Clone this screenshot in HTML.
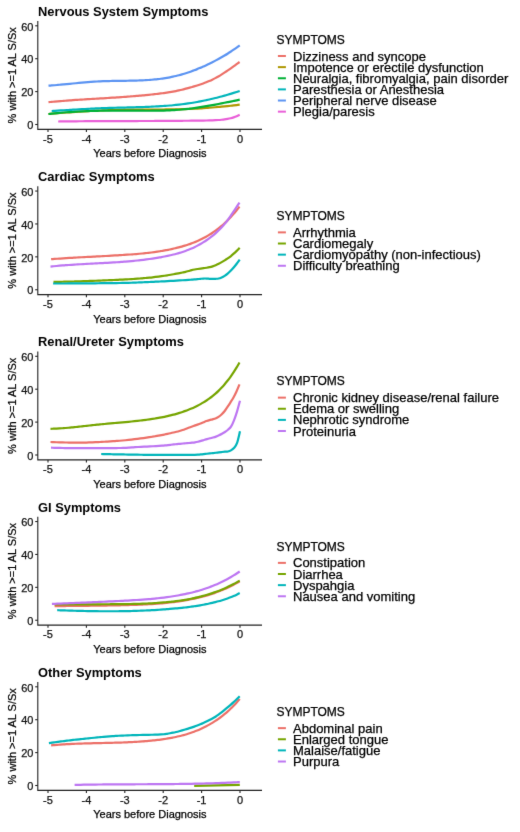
<!DOCTYPE html><html><head><meta charset="utf-8"><style>html,body{margin:0;padding:0;background:#fff;}svg{display:block;will-change:transform;}text{font-family:"Liberation Sans",sans-serif;stroke:#000;stroke-width:0.25px;}</style></head><body>
<svg width="520" height="832" viewBox="0 0 520 832">
<defs><filter id="soft" x="0" y="0" width="520" height="832" filterUnits="userSpaceOnUse" color-interpolation-filters="sRGB"><feConvolveMatrix order="3" kernelMatrix="0.0064 0.0672 0.0064 0.0672 0.7056 0.0672 0.0064 0.0672 0.0064" edgeMode="duplicate"/></filter></defs>
<g filter="url(#soft)">
<rect width="520" height="832" fill="#fff"/>
<g><text x="38" y="15.8" font-size="12.88" font-weight="bold" fill="#000" style="stroke:none">Nervous System Symptoms</text><path d="M48.5 102.2C49.01 102.15 50.52 102 51.53 101.91C52.54 101.81 53.56 101.72 54.57 101.62C55.58 101.53 56.59 101.44 57.6 101.36C58.61 101.27 59.62 101.18 60.63 101.1C61.64 101.02 62.66 100.93 63.67 100.85C64.68 100.77 65.69 100.7 66.7 100.62C67.71 100.54 68.72 100.47 69.73 100.4C70.74 100.32 71.76 100.25 72.77 100.18C73.78 100.11 74.79 100.04 75.8 99.97C76.81 99.9 77.82 99.84 78.83 99.77C79.84 99.7 80.86 99.64 81.87 99.57C82.88 99.51 83.89 99.44 84.9 99.38C85.91 99.32 86.92 99.26 87.93 99.19C88.94 99.13 89.96 99.07 90.97 99.01C91.98 98.95 92.99 98.89 94 98.83C95.01 98.77 96.02 98.71 97.03 98.65C98.04 98.59 99.06 98.53 100.07 98.47C101.08 98.4 102.09 98.34 103.1 98.28C104.11 98.22 105.12 98.16 106.13 98.1C107.14 98.04 108.16 97.98 109.17 97.91C110.18 97.85 111.19 97.79 112.2 97.72C113.21 97.66 114.22 97.6 115.23 97.53C116.24 97.46 117.26 97.4 118.27 97.33C119.28 97.26 120.29 97.19 121.3 97.13C122.31 97.06 123.32 96.98 124.33 96.91C125.34 96.84 126.36 96.77 127.37 96.69C128.38 96.62 129.39 96.54 130.4 96.46C131.41 96.38 132.42 96.3 133.43 96.22C134.44 96.14 135.46 96.05 136.47 95.97C137.48 95.88 138.49 95.79 139.5 95.7C140.51 95.61 141.52 95.52 142.53 95.43C143.54 95.33 144.56 95.24 145.57 95.14C146.58 95.04 147.59 94.94 148.6 94.83C149.61 94.73 150.62 94.62 151.63 94.51C152.64 94.4 153.66 94.29 154.67 94.18C155.68 94.06 156.69 93.94 157.7 93.82C158.71 93.7 159.72 93.58 160.73 93.45C161.74 93.32 162.76 93.19 163.77 93.05C164.78 92.92 165.79 92.78 166.8 92.63C167.81 92.48 168.82 92.32 169.83 92.16C170.84 92 171.86 91.83 172.87 91.65C173.88 91.46 174.89 91.27 175.9 91.07C176.91 90.87 177.92 90.66 178.93 90.43C179.94 90.2 180.96 89.96 181.97 89.71C182.98 89.46 183.99 89.2 185 88.93C186.01 88.67 187.02 88.39 188.03 88.12C189.04 87.85 190.06 87.57 191.07 87.29C192.08 87 193.09 86.72 194.1 86.42C195.11 86.12 196.12 85.82 197.13 85.51C198.14 85.19 199.16 84.86 200.17 84.52C201.18 84.18 202.19 83.83 203.2 83.46C204.21 83.09 205.22 82.71 206.23 82.31C207.24 81.9 208.26 81.48 209.27 81.04C210.28 80.59 211.29 80.13 212.3 79.64C213.31 79.15 214.32 78.64 215.33 78.11C216.34 77.58 217.36 77.02 218.37 76.43C219.38 75.85 220.39 75.25 221.4 74.62C222.41 74 223.42 73.36 224.43 72.7C225.44 72.04 226.46 71.36 227.47 70.68C228.48 69.99 229.49 69.29 230.5 68.58C231.51 67.87 232.52 67.14 233.53 66.42C234.54 65.69 235.56 64.95 236.57 64.22C237.58 63.48 239.09 62.37 239.6 62" fill="none" stroke="#EC7068" stroke-width="2.2" stroke-linecap="butt" stroke-linejoin="round"/><path d="M48.5 114C49.01 113.96 50.52 113.82 51.53 113.74C52.55 113.65 53.56 113.57 54.57 113.48C55.58 113.4 56.59 113.32 57.6 113.23C58.62 113.15 59.63 113.07 60.64 112.99C61.65 112.91 62.66 112.83 63.67 112.75C64.69 112.68 65.7 112.6 66.71 112.52C67.72 112.45 68.73 112.37 69.74 112.3C70.76 112.23 71.77 112.16 72.78 112.09C73.79 112.01 74.8 111.94 75.81 111.88C76.83 111.81 77.84 111.74 78.85 111.68C79.86 111.61 80.87 111.55 81.88 111.48C82.9 111.42 83.91 111.36 84.92 111.3C85.93 111.24 86.94 111.18 87.95 111.12C88.97 111.06 89.98 111.01 90.99 110.95C92 110.9 93.01 110.84 94.02 110.79C95.04 110.74 96.05 110.69 97.06 110.64C98.07 110.59 99.08 110.54 100.09 110.5C101.11 110.45 102.12 110.41 103.13 110.36C104.14 110.32 105.15 110.28 106.16 110.24C107.18 110.2 108.19 110.16 109.2 110.13C110.21 110.09 111.22 110.05 112.23 110.02C113.24 109.99 114.26 109.95 115.27 109.92C116.28 109.89 117.29 109.87 118.3 109.84C119.31 109.81 120.33 109.79 121.34 109.76C122.35 109.74 123.36 109.72 124.37 109.7C125.38 109.68 126.4 109.66 127.41 109.65C128.42 109.63 129.43 109.61 130.44 109.6C131.45 109.59 132.47 109.58 133.48 109.57C134.49 109.56 135.5 109.55 136.51 109.55C137.52 109.54 138.54 109.53 139.55 109.53C140.56 109.53 141.57 109.52 142.58 109.52C143.59 109.52 144.61 109.52 145.62 109.51C146.63 109.51 147.64 109.51 148.65 109.51C149.66 109.51 150.68 109.51 151.69 109.51C152.7 109.51 153.71 109.51 154.72 109.51C155.73 109.51 156.75 109.5 157.76 109.5C158.77 109.5 159.78 109.5 160.79 109.5C161.8 109.49 162.82 109.49 163.83 109.48C164.84 109.48 165.85 109.47 166.86 109.46C167.87 109.46 168.89 109.45 169.9 109.44C170.91 109.43 171.92 109.41 172.93 109.4C173.94 109.38 174.96 109.37 175.97 109.35C176.98 109.33 177.99 109.31 179 109.29C180.01 109.27 181.02 109.24 182.04 109.21C183.05 109.18 184.06 109.15 185.07 109.12C186.08 109.09 187.09 109.05 188.11 109.01C189.12 108.97 190.13 108.93 191.14 108.88C192.15 108.84 193.16 108.79 194.18 108.74C195.19 108.69 196.2 108.63 197.21 108.58C198.22 108.52 199.23 108.46 200.25 108.4C201.26 108.33 202.27 108.27 203.28 108.2C204.29 108.13 205.3 108.06 206.32 107.99C207.33 107.91 208.34 107.84 209.35 107.76C210.36 107.68 211.37 107.6 212.39 107.51C213.4 107.43 214.41 107.34 215.42 107.25C216.43 107.16 217.44 107.07 218.46 106.97C219.47 106.87 220.48 106.78 221.49 106.68C222.5 106.58 223.51 106.48 224.53 106.37C225.54 106.27 226.55 106.16 227.56 106.05C228.57 105.95 229.58 105.84 230.6 105.73C231.61 105.62 232.62 105.5 233.63 105.39C234.64 105.28 235.65 105.16 236.67 105.05C237.68 104.93 239.19 104.76 239.7 104.7" fill="none" stroke="#AE9700" stroke-width="2.2" stroke-linecap="butt" stroke-linejoin="round"/><path d="M48.5 114C49.01 113.94 50.52 113.77 51.53 113.66C52.55 113.55 53.56 113.44 54.57 113.34C55.58 113.24 56.59 113.14 57.6 113.04C58.62 112.95 59.63 112.86 60.64 112.77C61.65 112.68 62.66 112.59 63.67 112.51C64.69 112.43 65.7 112.35 66.71 112.27C67.72 112.2 68.73 112.13 69.74 112.06C70.76 111.99 71.77 111.92 72.78 111.86C73.79 111.79 74.8 111.73 75.81 111.67C76.83 111.62 77.84 111.56 78.85 111.51C79.86 111.46 80.87 111.41 81.88 111.36C82.9 111.31 83.91 111.27 84.92 111.23C85.93 111.18 86.94 111.15 87.95 111.11C88.97 111.07 89.98 111.04 90.99 111C92 110.97 93.01 110.94 94.02 110.91C95.04 110.88 96.05 110.86 97.06 110.83C98.07 110.81 99.08 110.79 100.09 110.77C101.11 110.75 102.12 110.73 103.13 110.71C104.14 110.7 105.15 110.68 106.16 110.67C107.18 110.66 108.19 110.65 109.2 110.64C110.21 110.63 111.22 110.62 112.23 110.61C113.24 110.6 114.26 110.6 115.27 110.6C116.28 110.59 117.29 110.59 118.3 110.59C119.31 110.59 120.33 110.59 121.34 110.59C122.35 110.59 123.36 110.59 124.37 110.59C125.38 110.6 126.4 110.6 127.41 110.61C128.42 110.61 129.43 110.62 130.44 110.62C131.45 110.63 132.47 110.64 133.48 110.65C134.49 110.65 135.5 110.66 136.51 110.67C137.52 110.68 138.54 110.69 139.55 110.69C140.56 110.7 141.57 110.71 142.58 110.71C143.59 110.72 144.61 110.72 145.62 110.73C146.63 110.73 147.64 110.73 148.65 110.73C149.66 110.73 150.68 110.73 151.69 110.72C152.7 110.72 153.71 110.71 154.72 110.7C155.73 110.69 156.75 110.68 157.76 110.67C158.77 110.65 159.78 110.63 160.79 110.61C161.8 110.59 162.82 110.56 163.83 110.53C164.84 110.5 165.85 110.47 166.86 110.43C167.87 110.39 168.89 110.35 169.9 110.3C170.91 110.26 171.92 110.2 172.93 110.15C173.94 110.09 174.96 110.03 175.97 109.96C176.98 109.89 177.99 109.81 179 109.73C180.01 109.65 181.02 109.57 182.04 109.47C183.05 109.38 184.06 109.28 185.07 109.18C186.08 109.07 187.09 108.96 188.11 108.84C189.12 108.73 190.13 108.6 191.14 108.48C192.15 108.35 193.16 108.22 194.18 108.08C195.19 107.94 196.2 107.8 197.21 107.65C198.22 107.5 199.23 107.35 200.25 107.19C201.26 107.03 202.27 106.87 203.28 106.71C204.29 106.54 205.3 106.37 206.32 106.2C207.33 106.03 208.34 105.85 209.35 105.67C210.36 105.49 211.37 105.31 212.39 105.13C213.4 104.94 214.41 104.75 215.42 104.56C216.43 104.37 217.44 104.18 218.46 103.98C219.47 103.79 220.48 103.59 221.49 103.39C222.5 103.19 223.51 102.99 224.53 102.79C225.54 102.58 226.55 102.38 227.56 102.18C228.57 101.97 229.58 101.77 230.6 101.56C231.61 101.36 232.62 101.15 233.63 100.94C234.64 100.73 235.65 100.53 236.67 100.32C237.68 100.11 239.19 99.8 239.7 99.7" fill="none" stroke="#00B135" stroke-width="2.2" stroke-linecap="butt" stroke-linejoin="round"/><path d="M51.7 111C52.21 110.97 53.72 110.88 54.73 110.82C55.74 110.76 56.75 110.7 57.76 110.63C58.78 110.57 59.79 110.51 60.8 110.45C61.81 110.39 62.82 110.32 63.83 110.26C64.84 110.2 65.85 110.14 66.86 110.07C67.87 110.01 68.88 109.95 69.89 109.89C70.9 109.82 71.92 109.76 72.93 109.7C73.94 109.64 74.95 109.58 75.96 109.52C76.97 109.46 77.98 109.4 78.99 109.34C80 109.28 81.01 109.22 82.02 109.17C83.03 109.11 84.04 109.05 85.05 109C86.07 108.94 87.08 108.89 88.09 108.83C89.1 108.78 90.11 108.73 91.12 108.68C92.13 108.63 93.14 108.58 94.15 108.53C95.16 108.49 96.17 108.44 97.18 108.4C98.19 108.35 99.21 108.31 100.22 108.27C101.23 108.23 102.24 108.19 103.25 108.15C104.26 108.12 105.27 108.08 106.28 108.05C107.29 108.01 108.3 107.98 109.31 107.95C110.32 107.92 111.33 107.89 112.35 107.86C113.36 107.83 114.37 107.8 115.38 107.77C116.39 107.75 117.4 107.72 118.41 107.69C119.42 107.67 120.43 107.64 121.44 107.61C122.45 107.59 123.46 107.56 124.47 107.54C125.48 107.51 126.5 107.49 127.51 107.46C128.52 107.43 129.53 107.41 130.54 107.38C131.55 107.36 132.56 107.33 133.57 107.3C134.58 107.27 135.59 107.25 136.6 107.22C137.61 107.19 138.62 107.16 139.64 107.13C140.65 107.09 141.66 107.06 142.67 107.03C143.68 106.99 144.69 106.96 145.7 106.92C146.71 106.88 147.72 106.84 148.73 106.8C149.74 106.76 150.75 106.71 151.76 106.67C152.78 106.62 153.79 106.57 154.8 106.52C155.81 106.47 156.82 106.41 157.83 106.36C158.84 106.3 159.85 106.24 160.86 106.17C161.87 106.11 162.88 106.04 163.89 105.97C164.9 105.9 165.92 105.83 166.93 105.75C167.94 105.67 168.95 105.59 169.96 105.5C170.97 105.42 171.98 105.33 172.99 105.23C174 105.14 175.01 105.04 176.02 104.94C177.03 104.83 178.04 104.72 179.05 104.61C180.07 104.5 181.08 104.38 182.09 104.26C183.1 104.13 184.11 104 185.12 103.87C186.13 103.73 187.14 103.59 188.15 103.45C189.16 103.3 190.17 103.15 191.18 102.99C192.19 102.83 193.21 102.67 194.22 102.5C195.23 102.33 196.24 102.15 197.25 101.97C198.26 101.79 199.27 101.6 200.28 101.4C201.29 101.2 202.3 101 203.31 100.79C204.32 100.59 205.33 100.37 206.35 100.15C207.36 99.93 208.37 99.71 209.38 99.47C210.39 99.24 211.4 99.01 212.41 98.76C213.42 98.52 214.43 98.27 215.44 98.02C216.45 97.77 217.46 97.51 218.47 97.24C219.48 96.98 220.5 96.71 221.51 96.44C222.52 96.16 223.53 95.88 224.54 95.6C225.55 95.32 226.56 95.03 227.57 94.73C228.58 94.44 229.59 94.14 230.6 93.84C231.61 93.54 232.62 93.23 233.64 92.92C234.65 92.61 235.66 92.29 236.67 91.97C237.68 91.66 239.19 91.17 239.7 91" fill="none" stroke="#00B5BA" stroke-width="2.2" stroke-linecap="butt" stroke-linejoin="round"/><path d="M48.5 85.7C49.01 85.66 50.52 85.55 51.53 85.47C52.55 85.39 53.56 85.31 54.57 85.23C55.58 85.14 56.59 85.05 57.6 84.96C58.62 84.88 59.63 84.78 60.64 84.69C61.65 84.6 62.66 84.5 63.67 84.4C64.69 84.31 65.7 84.21 66.71 84.11C67.72 84.01 68.73 83.91 69.74 83.81C70.76 83.72 71.77 83.62 72.78 83.52C73.79 83.42 74.8 83.32 75.81 83.22C76.83 83.13 77.84 83.03 78.85 82.93C79.86 82.84 80.87 82.75 81.88 82.65C82.9 82.56 83.91 82.47 84.92 82.39C85.93 82.3 86.94 82.22 87.95 82.14C88.97 82.05 89.98 81.98 90.99 81.9C92 81.83 93.01 81.76 94.02 81.69C95.04 81.62 96.05 81.56 97.06 81.5C98.07 81.45 99.08 81.39 100.09 81.34C101.11 81.3 102.12 81.25 103.13 81.21C104.14 81.18 105.15 81.14 106.16 81.11C107.18 81.08 108.19 81.05 109.2 81.03C110.21 81.01 111.22 80.99 112.23 80.97C113.24 80.95 114.26 80.93 115.27 80.92C116.28 80.9 117.29 80.89 118.3 80.88C119.31 80.86 120.33 80.85 121.34 80.84C122.35 80.83 123.36 80.82 124.37 80.8C125.38 80.79 126.4 80.78 127.41 80.76C128.42 80.75 129.43 80.73 130.44 80.71C131.45 80.7 132.47 80.67 133.48 80.65C134.49 80.63 135.5 80.6 136.51 80.57C137.52 80.54 138.54 80.51 139.55 80.47C140.56 80.43 141.57 80.39 142.58 80.34C143.59 80.29 144.61 80.24 145.62 80.18C146.63 80.12 147.64 80.05 148.65 79.98C149.66 79.91 150.68 79.83 151.69 79.75C152.7 79.66 153.71 79.57 154.72 79.47C155.73 79.37 156.75 79.26 157.76 79.15C158.77 79.03 159.78 78.91 160.79 78.77C161.8 78.64 162.82 78.5 163.83 78.34C164.84 78.19 165.85 78.03 166.86 77.86C167.87 77.68 168.89 77.5 169.9 77.31C170.91 77.11 171.92 76.91 172.93 76.69C173.94 76.48 174.96 76.25 175.97 76.01C176.98 75.77 177.99 75.52 179 75.25C180.01 74.99 181.02 74.71 182.04 74.42C183.05 74.13 184.06 73.82 185.07 73.51C186.08 73.19 187.09 72.86 188.11 72.52C189.12 72.18 190.13 71.83 191.14 71.46C192.15 71.1 193.16 70.72 194.18 70.33C195.19 69.95 196.2 69.55 197.21 69.14C198.22 68.73 199.23 68.3 200.25 67.87C201.26 67.44 202.27 67 203.28 66.54C204.29 66.09 205.3 65.62 206.32 65.15C207.33 64.68 208.34 64.19 209.35 63.7C210.36 63.2 211.37 62.7 212.39 62.19C213.4 61.67 214.41 61.15 215.42 60.62C216.43 60.09 217.44 59.55 218.46 59C219.47 58.44 220.48 57.88 221.49 57.31C222.5 56.73 223.51 56.15 224.53 55.54C225.54 54.94 226.55 54.33 227.56 53.7C228.57 53.07 229.58 52.42 230.6 51.76C231.61 51.1 232.62 50.42 233.63 49.72C234.64 49.02 235.65 48.31 236.67 47.57C237.68 46.84 239.19 45.69 239.7 45.31" fill="none" stroke="#5C94F2" stroke-width="2.2" stroke-linecap="butt" stroke-linejoin="round"/><path d="M58.2 121.5C58.7 121.49 60.22 121.47 61.23 121.46C62.23 121.45 63.24 121.43 64.25 121.42C65.26 121.41 66.27 121.4 67.28 121.38C68.28 121.37 69.29 121.36 70.3 121.35C71.31 121.34 72.32 121.33 73.33 121.32C74.33 121.31 75.34 121.3 76.35 121.29C77.36 121.28 78.37 121.27 79.38 121.27C80.38 121.26 81.39 121.25 82.4 121.24C83.41 121.23 84.42 121.23 85.42 121.22C86.43 121.21 87.44 121.21 88.45 121.2C89.46 121.19 90.47 121.19 91.47 121.18C92.48 121.18 93.49 121.17 94.5 121.16C95.51 121.16 96.52 121.15 97.53 121.15C98.53 121.14 99.54 121.14 100.55 121.14C101.56 121.13 102.57 121.13 103.58 121.12C104.58 121.12 105.59 121.12 106.6 121.11C107.61 121.11 108.62 121.1 109.62 121.1C110.63 121.1 111.64 121.09 112.65 121.09C113.66 121.09 114.67 121.09 115.68 121.08C116.68 121.08 117.69 121.08 118.7 121.07C119.71 121.07 120.72 121.07 121.72 121.07C122.73 121.06 123.74 121.06 124.75 121.06C125.76 121.06 126.77 121.05 127.78 121.05C128.78 121.05 129.79 121.05 130.8 121.04C131.81 121.04 132.82 121.04 133.82 121.04C134.83 121.03 135.84 121.03 136.85 121.03C137.86 121.02 138.87 121.02 139.88 121.02C140.88 121.02 141.89 121.01 142.9 121.01C143.91 121.01 144.92 121 145.93 121C146.93 121 147.94 120.99 148.95 120.99C149.96 120.99 150.97 120.98 151.97 120.98C152.98 120.98 153.99 120.97 155 120.97C156.01 120.96 157.02 120.96 158.03 120.95C159.03 120.95 160.04 120.94 161.05 120.94C162.06 120.93 163.07 120.93 164.07 120.92C165.08 120.92 166.09 120.91 167.1 120.91C168.11 120.9 169.12 120.89 170.12 120.89C171.13 120.88 172.14 120.87 173.15 120.87C174.16 120.86 175.17 120.85 176.18 120.84C177.18 120.83 178.19 120.83 179.2 120.82C180.21 120.81 181.22 120.8 182.22 120.79C183.23 120.78 184.24 120.77 185.25 120.76C186.26 120.75 187.27 120.74 188.27 120.73C189.28 120.72 190.29 120.71 191.3 120.69C192.31 120.68 193.32 120.67 194.32 120.66C195.33 120.64 196.34 120.63 197.35 120.62C198.36 120.6 199.37 120.59 200.38 120.57C201.38 120.56 202.39 120.54 203.4 120.53C204.41 120.51 205.42 120.49 206.43 120.48C207.43 120.46 208.44 120.44 209.45 120.41C210.46 120.39 211.47 120.36 212.48 120.32C213.48 120.29 214.49 120.24 215.5 120.19C216.51 120.13 217.52 120.07 218.52 119.99C219.53 119.91 220.54 119.82 221.55 119.72C222.56 119.61 223.57 119.49 224.57 119.34C225.58 119.2 226.59 119.04 227.6 118.86C228.61 118.67 229.62 118.46 230.62 118.21C231.63 117.96 232.64 117.68 233.65 117.35C234.66 117.02 235.67 116.66 236.68 116.23C237.68 115.81 239.2 115.04 239.7 114.8" fill="none" stroke="#E95FD8" stroke-width="2.2" stroke-linecap="butt" stroke-linejoin="round"/><path d="M37.8 21V129.4H262" fill="none" stroke="#222" stroke-width="1.1"/><path d="M35.2 124.5H37.8" stroke="#222" stroke-width="1.1"/><text x="33.4" y="129.2" font-size="11" text-anchor="end" fill="#1a1a1a">0</text><path d="M35.2 91.6H37.8" stroke="#222" stroke-width="1.1"/><text x="33.4" y="96.3" font-size="11" text-anchor="end" fill="#1a1a1a">20</text><path d="M35.2 58.7H37.8" stroke="#222" stroke-width="1.1"/><text x="33.4" y="63.4" font-size="11" text-anchor="end" fill="#1a1a1a">40</text><path d="M35.2 25.8H37.8" stroke="#222" stroke-width="1.1"/><text x="33.4" y="30.5" font-size="11" text-anchor="end" fill="#1a1a1a">60</text><path d="M48 129.4V132" stroke="#222" stroke-width="1.1"/><text x="48" y="142.6" font-size="11" text-anchor="middle" fill="#1a1a1a">-5</text><path d="M86.4 129.4V132" stroke="#222" stroke-width="1.1"/><text x="86.4" y="142.6" font-size="11" text-anchor="middle" fill="#1a1a1a">-4</text><path d="M124.8 129.4V132" stroke="#222" stroke-width="1.1"/><text x="124.8" y="142.6" font-size="11" text-anchor="middle" fill="#1a1a1a">-3</text><path d="M163.2 129.4V132" stroke="#222" stroke-width="1.1"/><text x="163.2" y="142.6" font-size="11" text-anchor="middle" fill="#1a1a1a">-2</text><path d="M201.6 129.4V132" stroke="#222" stroke-width="1.1"/><text x="201.6" y="142.6" font-size="11" text-anchor="middle" fill="#1a1a1a">-1</text><path d="M240 129.4V132" stroke="#222" stroke-width="1.1"/><text x="240" y="142.6" font-size="11" text-anchor="middle" fill="#1a1a1a">0</text><text x="149.9" y="157.3" font-size="11" text-anchor="middle" fill="#000">Years before Diagnosis</text><text transform="translate(16.2 75.3) rotate(-90)" font-size="11" text-anchor="middle" fill="#000">% with &gt;=1 AL S/Sx</text><text x="276.4" y="43.8" font-size="12" fill="#000">SYMPTOMS</text><path d="M277.9 56H285.9" stroke="#EC7068" stroke-width="2"/><text x="293" y="60.6" font-size="13" fill="#000">Dizziness and syncope</text><path d="M277.9 67.13H285.9" stroke="#AE9700" stroke-width="2"/><text x="293" y="71.73" font-size="13" fill="#000">Impotence or erectile dysfunction</text><path d="M277.9 78.26H285.9" stroke="#00B135" stroke-width="2"/><text x="293" y="82.86" font-size="13" fill="#000">Neuralgia, fibromyalgia, pain disorder</text><path d="M277.9 89.39H285.9" stroke="#00B5BA" stroke-width="2"/><text x="293" y="93.99" font-size="13" fill="#000">Paresthesia or Anesthesia</text><path d="M277.9 100.52H285.9" stroke="#5C94F2" stroke-width="2"/><text x="293" y="105.12" font-size="13" fill="#000">Peripheral nerve disease</text><path d="M277.9 111.65H285.9" stroke="#E95FD8" stroke-width="2"/><text x="293" y="116.25" font-size="13" fill="#000">Plegia/paresis</text></g>
<g><text x="38" y="181.05" font-size="12.88" font-weight="bold" fill="#000" style="stroke:none">Cardiac Symptoms</text><path d="M51.1 259.2C51.61 259.16 53.13 259.05 54.14 258.97C55.15 258.9 56.16 258.83 57.18 258.76C58.19 258.68 59.2 258.62 60.22 258.55C61.23 258.48 62.24 258.41 63.25 258.35C64.27 258.28 65.28 258.22 66.29 258.15C67.31 258.09 68.32 258.03 69.33 257.97C70.35 257.91 71.36 257.84 72.37 257.79C73.38 257.73 74.4 257.67 75.41 257.61C76.42 257.55 77.44 257.5 78.45 257.44C79.46 257.38 80.47 257.33 81.49 257.27C82.5 257.22 83.51 257.16 84.53 257.11C85.54 257.05 86.55 257 87.56 256.94C88.58 256.89 89.59 256.84 90.6 256.78C91.62 256.73 92.63 256.68 93.64 256.62C94.65 256.57 95.67 256.52 96.68 256.47C97.69 256.41 98.71 256.36 99.72 256.31C100.73 256.25 101.75 256.2 102.76 256.14C103.77 256.09 104.78 256.04 105.8 255.98C106.81 255.93 107.82 255.87 108.84 255.81C109.85 255.76 110.86 255.7 111.87 255.64C112.89 255.59 113.9 255.53 114.91 255.47C115.93 255.41 116.94 255.35 117.95 255.29C118.96 255.23 119.98 255.17 120.99 255.11C122 255.04 123.02 254.98 124.03 254.92C125.04 254.85 126.05 254.78 127.07 254.71C128.08 254.65 129.09 254.58 130.11 254.5C131.12 254.43 132.13 254.35 133.15 254.28C134.16 254.2 135.17 254.12 136.18 254.03C137.2 253.95 138.21 253.86 139.22 253.77C140.24 253.68 141.25 253.58 142.26 253.48C143.27 253.38 144.29 253.28 145.3 253.17C146.31 253.07 147.33 252.95 148.34 252.84C149.35 252.72 150.36 252.6 151.38 252.47C152.39 252.35 153.4 252.21 154.42 252.08C155.43 251.94 156.44 251.79 157.45 251.64C158.47 251.49 159.48 251.34 160.49 251.18C161.51 251.01 162.52 250.85 163.53 250.67C164.55 250.49 165.56 250.31 166.57 250.12C167.58 249.93 168.6 249.73 169.61 249.53C170.62 249.32 171.64 249.11 172.65 248.88C173.66 248.66 174.67 248.42 175.69 248.18C176.7 247.93 177.71 247.68 178.73 247.41C179.74 247.14 180.75 246.87 181.76 246.58C182.78 246.29 183.79 245.98 184.8 245.67C185.82 245.35 186.83 245.02 187.84 244.68C188.85 244.33 189.87 243.98 190.88 243.6C191.89 243.23 192.91 242.84 193.92 242.43C194.93 242.03 195.95 241.61 196.96 241.17C197.97 240.73 198.98 240.28 200 239.8C201.01 239.32 202.02 238.83 203.04 238.31C204.05 237.79 205.06 237.25 206.07 236.69C207.09 236.13 208.1 235.54 209.11 234.93C210.13 234.31 211.14 233.67 212.15 233.01C213.16 232.34 214.18 231.64 215.19 230.92C216.2 230.19 217.22 229.44 218.23 228.65C219.24 227.86 220.25 227.04 221.27 226.18C222.28 225.33 223.29 224.44 224.31 223.51C225.32 222.58 226.33 221.62 227.35 220.62C228.36 219.62 229.37 218.58 230.38 217.49C231.4 216.41 232.41 215.29 233.42 214.12C234.44 212.96 235.45 211.75 236.46 210.5C237.47 209.24 238.99 207.25 239.5 206.6" fill="none" stroke="#EC7068" stroke-width="2.2" stroke-linecap="butt" stroke-linejoin="round"/><path d="M53.5 281.9C54 281.89 55.5 281.87 56.5 281.86C57.5 281.84 58.51 281.83 59.51 281.81C60.51 281.79 61.51 281.77 62.51 281.75C63.51 281.73 64.51 281.71 65.51 281.69C66.51 281.67 67.52 281.65 68.52 281.62C69.52 281.6 70.52 281.57 71.52 281.54C72.52 281.52 73.52 281.49 74.52 281.46C75.52 281.43 76.52 281.4 77.53 281.37C78.53 281.34 79.53 281.31 80.53 281.28C81.53 281.25 82.53 281.22 83.53 281.18C84.53 281.15 85.53 281.11 86.54 281.08C87.54 281.04 88.54 281.01 89.54 280.97C90.54 280.93 91.54 280.9 92.54 280.86C93.54 280.82 94.54 280.78 95.55 280.74C96.55 280.7 97.55 280.66 98.55 280.62C99.55 280.58 100.55 280.54 101.55 280.5C102.55 280.46 103.55 280.42 104.55 280.38C105.56 280.33 106.56 280.29 107.56 280.25C108.56 280.21 109.56 280.16 110.56 280.12C111.56 280.08 112.56 280.03 113.56 279.99C114.57 279.94 115.57 279.9 116.57 279.85C117.57 279.81 118.57 279.76 119.57 279.72C120.57 279.67 121.57 279.63 122.57 279.58C123.58 279.53 124.58 279.48 125.58 279.43C126.58 279.37 127.58 279.32 128.58 279.26C129.58 279.2 130.58 279.14 131.58 279.08C132.58 279.02 133.59 278.96 134.59 278.89C135.59 278.82 136.59 278.75 137.59 278.68C138.59 278.61 139.59 278.53 140.59 278.45C141.59 278.37 142.6 278.29 143.6 278.2C144.6 278.12 145.6 278.02 146.6 277.93C147.6 277.83 148.6 277.73 149.6 277.62C150.6 277.52 151.61 277.41 152.61 277.29C153.61 277.18 154.61 277.06 155.61 276.94C156.61 276.82 157.61 276.7 158.61 276.58C159.61 276.45 160.62 276.32 161.62 276.19C162.62 276.05 163.62 275.9 164.62 275.75C165.62 275.6 166.62 275.44 167.62 275.28C168.62 275.11 169.62 274.94 170.63 274.77C171.63 274.6 172.63 274.42 173.63 274.24C174.63 274.07 175.63 273.89 176.63 273.7C177.63 273.52 178.63 273.34 179.64 273.14C180.64 272.94 181.64 272.74 182.64 272.53C183.64 272.31 184.64 272.1 185.64 271.84C186.64 271.59 187.64 271.27 188.65 270.98C189.65 270.69 190.65 270.36 191.65 270.11C192.65 269.86 193.65 269.67 194.65 269.49C195.65 269.3 196.65 269.15 197.65 269C198.66 268.84 199.66 268.69 200.66 268.55C201.66 268.41 202.66 268.28 203.66 268.14C204.66 268 205.66 267.89 206.66 267.73C207.67 267.56 208.67 267.38 209.67 267.15C210.67 266.92 211.67 266.65 212.67 266.33C213.67 266.02 214.67 265.68 215.67 265.26C216.68 264.84 217.68 264.34 218.68 263.82C219.68 263.31 220.68 262.73 221.68 262.15C222.68 261.58 223.68 261.01 224.68 260.39C225.68 259.78 226.69 259.15 227.69 258.46C228.69 257.78 229.69 257.06 230.69 256.27C231.69 255.47 232.69 254.58 233.69 253.69C234.69 252.8 235.7 251.87 236.7 250.91C237.7 249.94 239.2 248.4 239.7 247.9" fill="none" stroke="#76A500" stroke-width="2.2" stroke-linecap="butt" stroke-linejoin="round"/><path d="M53.1 283.5C53.6 283.5 55.11 283.5 56.11 283.5C57.11 283.5 58.12 283.5 59.12 283.5C60.12 283.49 61.13 283.49 62.13 283.49C63.13 283.49 64.14 283.48 65.14 283.48C66.14 283.48 67.15 283.47 68.15 283.47C69.15 283.47 70.15 283.46 71.16 283.46C72.16 283.45 73.16 283.45 74.17 283.44C75.17 283.44 76.17 283.43 77.18 283.43C78.18 283.42 79.18 283.41 80.19 283.41C81.19 283.4 82.19 283.39 83.2 283.39C84.2 283.38 85.2 283.37 86.21 283.36C87.21 283.36 88.21 283.35 89.22 283.34C90.22 283.33 91.22 283.32 92.23 283.31C93.23 283.3 94.23 283.29 95.24 283.28C96.24 283.27 97.24 283.27 98.25 283.26C99.25 283.24 100.25 283.23 101.25 283.22C102.26 283.21 103.26 283.2 104.26 283.19C105.27 283.18 106.27 283.17 107.27 283.16C108.28 283.15 109.28 283.13 110.28 283.12C111.29 283.11 112.29 283.1 113.29 283.09C114.3 283.07 115.3 283.06 116.3 283.05C117.31 283.04 118.31 283.02 119.31 283.01C120.32 283 121.32 282.98 122.32 282.96C123.33 282.95 124.33 282.93 125.33 282.9C126.34 282.88 127.34 282.85 128.34 282.83C129.35 282.8 130.35 282.77 131.35 282.74C132.35 282.7 133.36 282.67 134.36 282.63C135.36 282.6 136.37 282.56 137.37 282.52C138.37 282.48 139.38 282.44 140.38 282.4C141.38 282.36 142.39 282.32 143.39 282.27C144.39 282.23 145.4 282.18 146.4 282.14C147.4 282.09 148.41 282.04 149.41 282C150.41 281.95 151.42 281.9 152.42 281.86C153.42 281.81 154.43 281.76 155.43 281.71C156.43 281.67 157.44 281.62 158.44 281.57C159.44 281.53 160.45 281.48 161.45 281.43C162.45 281.38 163.45 281.34 164.46 281.29C165.46 281.24 166.46 281.19 167.47 281.13C168.47 281.08 169.47 281.03 170.48 280.97C171.48 280.92 172.48 280.86 173.49 280.81C174.49 280.75 175.49 280.69 176.5 280.63C177.5 280.57 178.5 280.51 179.51 280.45C180.51 280.39 181.51 280.33 182.52 280.26C183.52 280.2 184.52 280.13 185.53 280.07C186.53 280 187.53 279.93 188.54 279.86C189.54 279.8 190.54 279.72 191.55 279.65C192.55 279.58 193.55 279.52 194.55 279.43C195.56 279.35 196.56 279.25 197.56 279.15C198.57 279.04 199.57 278.89 200.57 278.79C201.58 278.69 202.58 278.58 203.58 278.54C204.59 278.5 205.59 278.51 206.59 278.55C207.6 278.6 208.6 278.73 209.6 278.79C210.61 278.85 211.61 278.9 212.61 278.9C213.62 278.89 214.62 278.85 215.62 278.78C216.63 278.72 217.63 278.74 218.63 278.51C219.64 278.28 220.64 277.87 221.64 277.42C222.65 276.98 223.65 276.46 224.65 275.84C225.65 275.21 226.66 274.51 227.66 273.68C228.66 272.84 229.67 271.87 230.67 270.83C231.67 269.8 232.68 268.66 233.68 267.47C234.68 266.29 235.69 265.02 236.69 263.71C237.69 262.4 239.2 260.29 239.7 259.6" fill="none" stroke="#00B5BA" stroke-width="2.2" stroke-linecap="butt" stroke-linejoin="round"/><path d="M50.5 266.6C51 266.55 52.5 266.39 53.5 266.28C54.5 266.18 55.5 266.08 56.5 265.99C57.5 265.89 58.5 265.8 59.5 265.71C60.5 265.62 61.5 265.54 62.5 265.46C63.5 265.37 64.5 265.3 65.5 265.22C66.5 265.14 67.5 265.07 68.5 264.99C69.5 264.92 70.5 264.85 71.5 264.79C72.5 264.72 73.5 264.65 74.5 264.59C75.5 264.53 76.5 264.46 77.5 264.4C78.5 264.34 79.5 264.28 80.5 264.23C81.5 264.17 82.5 264.11 83.5 264.06C84.5 264 85.5 263.95 86.5 263.89C87.5 263.84 88.5 263.79 89.5 263.73C90.5 263.68 91.5 263.63 92.5 263.58C93.5 263.53 94.5 263.47 95.5 263.42C96.5 263.37 97.5 263.32 98.5 263.27C99.5 263.22 100.5 263.16 101.5 263.11C102.5 263.06 103.5 263 104.5 262.95C105.5 262.89 106.5 262.84 107.5 262.78C108.5 262.73 109.5 262.67 110.5 262.61C111.5 262.55 112.5 262.49 113.5 262.43C114.5 262.37 115.5 262.3 116.5 262.24C117.5 262.17 118.5 262.1 119.5 262.03C120.5 261.96 121.5 261.89 122.5 261.82C123.5 261.74 124.5 261.66 125.5 261.58C126.5 261.5 127.5 261.42 128.5 261.34C129.5 261.25 130.5 261.16 131.5 261.07C132.5 260.98 133.5 260.88 134.5 260.78C135.5 260.68 136.5 260.58 137.5 260.48C138.5 260.37 139.5 260.26 140.5 260.15C141.5 260.03 142.5 259.91 143.5 259.79C144.5 259.67 145.5 259.54 146.5 259.41C147.5 259.28 148.5 259.14 149.5 259C150.5 258.86 151.5 258.72 152.5 258.57C153.5 258.41 154.5 258.26 155.5 258.1C156.5 257.94 157.5 257.77 158.5 257.6C159.5 257.42 160.5 257.25 161.5 257.06C162.5 256.88 163.5 256.69 164.5 256.49C165.5 256.29 166.5 256.09 167.5 255.88C168.5 255.67 169.5 255.45 170.5 255.23C171.5 255 172.5 254.76 173.5 254.52C174.5 254.27 175.5 254.01 176.5 253.74C177.5 253.47 178.5 253.19 179.5 252.89C180.5 252.59 181.5 252.28 182.5 251.95C183.5 251.62 184.5 251.28 185.5 250.92C186.5 250.56 187.5 250.18 188.5 249.78C189.5 249.38 190.5 248.97 191.5 248.53C192.5 248.09 193.5 247.63 194.5 247.15C195.5 246.67 196.5 246.17 197.5 245.64C198.5 245.11 199.5 244.56 200.5 243.98C201.5 243.41 202.5 242.81 203.5 242.18C204.5 241.55 205.5 240.9 206.5 240.22C207.5 239.53 208.5 238.83 209.5 238.09C210.5 237.35 211.5 236.59 212.5 235.79C213.5 235 214.5 234.18 215.5 233.31C216.5 232.44 217.5 231.53 218.5 230.57C219.5 229.61 220.5 228.61 221.5 227.54C222.5 226.46 223.5 225.34 224.5 224.14C225.5 222.93 226.5 221.66 227.5 220.32C228.5 218.98 229.5 217.56 230.5 216.12C231.5 214.68 232.5 213.18 233.5 211.68C234.5 210.18 235.5 208.64 236.5 207.13C237.5 205.61 239 203.35 239.5 202.6" fill="none" stroke="#BD76F2" stroke-width="2.2" stroke-linecap="butt" stroke-linejoin="round"/><path d="M37.8 186.25V294.65H262" fill="none" stroke="#222" stroke-width="1.1"/><path d="M35.2 289.75H37.8" stroke="#222" stroke-width="1.1"/><text x="33.4" y="294.45" font-size="11" text-anchor="end" fill="#1a1a1a">0</text><path d="M35.2 256.85H37.8" stroke="#222" stroke-width="1.1"/><text x="33.4" y="261.55" font-size="11" text-anchor="end" fill="#1a1a1a">20</text><path d="M35.2 223.95H37.8" stroke="#222" stroke-width="1.1"/><text x="33.4" y="228.65" font-size="11" text-anchor="end" fill="#1a1a1a">40</text><path d="M35.2 191.05H37.8" stroke="#222" stroke-width="1.1"/><text x="33.4" y="195.75" font-size="11" text-anchor="end" fill="#1a1a1a">60</text><path d="M48 294.65V297.25" stroke="#222" stroke-width="1.1"/><text x="48" y="307.85" font-size="11" text-anchor="middle" fill="#1a1a1a">-5</text><path d="M86.4 294.65V297.25" stroke="#222" stroke-width="1.1"/><text x="86.4" y="307.85" font-size="11" text-anchor="middle" fill="#1a1a1a">-4</text><path d="M124.8 294.65V297.25" stroke="#222" stroke-width="1.1"/><text x="124.8" y="307.85" font-size="11" text-anchor="middle" fill="#1a1a1a">-3</text><path d="M163.2 294.65V297.25" stroke="#222" stroke-width="1.1"/><text x="163.2" y="307.85" font-size="11" text-anchor="middle" fill="#1a1a1a">-2</text><path d="M201.6 294.65V297.25" stroke="#222" stroke-width="1.1"/><text x="201.6" y="307.85" font-size="11" text-anchor="middle" fill="#1a1a1a">-1</text><path d="M240 294.65V297.25" stroke="#222" stroke-width="1.1"/><text x="240" y="307.85" font-size="11" text-anchor="middle" fill="#1a1a1a">0</text><text x="149.9" y="322.55" font-size="11" text-anchor="middle" fill="#000">Years before Diagnosis</text><text transform="translate(16.2 240.55) rotate(-90)" font-size="11" text-anchor="middle" fill="#000">% with &gt;=1 AL S/Sx</text><text x="276.4" y="220.18" font-size="12" fill="#000">SYMPTOMS</text><path d="M277.9 232.38H285.9" stroke="#EC7068" stroke-width="2"/><text x="293" y="236.98" font-size="13" fill="#000">Arrhythmia</text><path d="M277.9 243.51H285.9" stroke="#76A500" stroke-width="2"/><text x="293" y="248.11" font-size="13" fill="#000">Cardiomegaly</text><path d="M277.9 254.64H285.9" stroke="#00B5BA" stroke-width="2"/><text x="293" y="259.24" font-size="13" fill="#000">Cardiomyopathy (non-infectious)</text><path d="M277.9 265.77H285.9" stroke="#BD76F2" stroke-width="2"/><text x="293" y="270.37" font-size="13" fill="#000">Difficulty breathing</text></g>
<g><text x="38" y="346.3" font-size="12.88" font-weight="bold" fill="#000" style="stroke:none">Renal/Ureter Symptoms</text><path d="M50.5 442C51 442.02 52.5 442.09 53.5 442.14C54.5 442.18 55.5 442.22 56.5 442.25C57.5 442.29 58.5 442.32 59.5 442.35C60.5 442.38 61.5 442.4 62.5 442.42C63.5 442.45 64.5 442.47 65.5 442.49C66.5 442.5 67.5 442.52 68.5 442.53C69.5 442.55 70.5 442.56 71.5 442.56C72.5 442.57 73.5 442.58 74.5 442.59C75.5 442.59 76.5 442.6 77.5 442.6C78.5 442.6 79.5 442.6 80.5 442.6C81.5 442.6 82.5 442.59 83.5 442.58C84.5 442.57 85.5 442.55 86.5 442.53C87.5 442.51 88.5 442.48 89.5 442.45C90.5 442.42 91.5 442.38 92.5 442.35C93.5 442.31 94.5 442.27 95.5 442.22C96.5 442.18 97.5 442.13 98.5 442.08C99.5 442.02 100.5 441.97 101.5 441.91C102.5 441.86 103.5 441.8 104.5 441.74C105.5 441.68 106.5 441.61 107.5 441.55C108.5 441.49 109.5 441.42 110.5 441.35C111.5 441.29 112.5 441.22 113.5 441.15C114.5 441.08 115.5 441.01 116.5 440.94C117.5 440.87 118.5 440.81 119.5 440.73C120.5 440.66 121.5 440.59 122.5 440.51C123.5 440.42 124.5 440.33 125.5 440.23C126.5 440.13 127.5 440.03 128.5 439.92C129.5 439.81 130.5 439.69 131.5 439.57C132.5 439.45 133.5 439.33 134.5 439.2C135.5 439.08 136.5 438.95 137.5 438.82C138.5 438.69 139.5 438.57 140.5 438.44C141.5 438.3 142.5 438.17 143.5 438.04C144.5 437.9 145.5 437.76 146.5 437.61C147.5 437.47 148.5 437.32 149.5 437.17C150.5 437.02 151.5 436.86 152.5 436.7C153.5 436.54 154.5 436.37 155.5 436.2C156.5 436.03 157.5 435.85 158.5 435.67C159.5 435.49 160.5 435.31 161.5 435.12C162.5 434.93 163.5 434.73 164.5 434.53C165.5 434.33 166.5 434.12 167.5 433.9C168.5 433.69 169.5 433.47 170.5 433.24C171.5 433.01 172.5 432.77 173.5 432.52C174.5 432.28 175.5 432.02 176.5 431.76C177.5 431.5 178.5 431.23 179.5 430.94C180.5 430.65 181.5 430.35 182.5 430.02C183.5 429.68 184.5 429.31 185.5 428.94C186.5 428.57 187.5 428.18 188.5 427.8C189.5 427.42 190.5 427.04 191.5 426.68C192.5 426.32 193.5 425.98 194.5 425.63C195.5 425.29 196.5 424.95 197.5 424.6C198.5 424.25 199.5 423.9 200.5 423.51C201.5 423.12 202.5 422.68 203.5 422.27C204.5 421.85 205.5 421.4 206.5 421.03C207.5 420.67 208.5 420.35 209.5 420.07C210.5 419.79 211.5 419.62 212.5 419.36C213.5 419.1 214.5 418.91 215.5 418.49C216.5 418.08 217.5 417.53 218.5 416.86C219.5 416.19 220.5 415.43 221.5 414.49C222.5 413.55 223.5 412.5 224.5 411.22C225.5 409.95 226.5 408.32 227.5 406.83C228.5 405.35 229.5 403.87 230.5 402.31C231.5 400.75 232.5 399.26 233.5 397.46C234.5 395.66 235.5 393.69 236.5 391.51C237.5 389.34 239 385.59 239.5 384.4" fill="none" stroke="#EC7068" stroke-width="2.2" stroke-linecap="butt" stroke-linejoin="round"/><path d="M50.5 428.8C51 428.79 52.5 428.75 53.5 428.72C54.5 428.68 55.5 428.64 56.5 428.59C57.5 428.54 58.5 428.49 59.5 428.43C60.5 428.37 61.5 428.3 62.5 428.23C63.5 428.15 64.5 428.08 65.5 427.99C66.5 427.91 67.5 427.83 68.5 427.74C69.5 427.65 70.5 427.55 71.5 427.46C72.5 427.36 73.5 427.26 74.5 427.16C75.5 427.05 76.5 426.95 77.5 426.84C78.5 426.73 79.5 426.62 80.5 426.51C81.5 426.4 82.5 426.29 83.5 426.18C84.5 426.07 85.5 425.96 86.5 425.85C87.5 425.73 88.5 425.62 89.5 425.51C90.5 425.4 91.5 425.29 92.5 425.18C93.5 425.07 94.5 424.97 95.5 424.86C96.5 424.76 97.5 424.65 98.5 424.55C99.5 424.45 100.5 424.36 101.5 424.26C102.5 424.16 103.5 424.07 104.5 423.97C105.5 423.88 106.5 423.79 107.5 423.7C108.5 423.6 109.5 423.51 110.5 423.42C111.5 423.33 112.5 423.24 113.5 423.15C114.5 423.06 115.5 422.98 116.5 422.89C117.5 422.8 118.5 422.71 119.5 422.62C120.5 422.53 121.5 422.44 122.5 422.34C123.5 422.25 124.5 422.16 125.5 422.06C126.5 421.97 127.5 421.88 128.5 421.78C129.5 421.68 130.5 421.58 131.5 421.48C132.5 421.38 133.5 421.28 134.5 421.17C135.5 421.07 136.5 420.96 137.5 420.85C138.5 420.74 139.5 420.63 140.5 420.51C141.5 420.39 142.5 420.27 143.5 420.15C144.5 420.03 145.5 419.9 146.5 419.77C147.5 419.64 148.5 419.51 149.5 419.37C150.5 419.23 151.5 419.08 152.5 418.93C153.5 418.78 154.5 418.62 155.5 418.46C156.5 418.3 157.5 418.13 158.5 417.95C159.5 417.78 160.5 417.59 161.5 417.4C162.5 417.21 163.5 417.01 164.5 416.8C165.5 416.59 166.5 416.38 167.5 416.15C168.5 415.92 169.5 415.69 170.5 415.44C171.5 415.19 172.5 414.94 173.5 414.67C174.5 414.4 175.5 414.12 176.5 413.83C177.5 413.54 178.5 413.24 179.5 412.92C180.5 412.61 181.5 412.28 182.5 411.94C183.5 411.6 184.5 411.24 185.5 410.87C186.5 410.51 187.5 410.12 188.5 409.73C189.5 409.33 190.5 408.92 191.5 408.49C192.5 408.06 193.5 407.62 194.5 407.16C195.5 406.7 196.5 406.22 197.5 405.72C198.5 405.21 199.5 404.69 200.5 404.14C201.5 403.59 202.5 403.02 203.5 402.42C204.5 401.82 205.5 401.19 206.5 400.53C207.5 399.86 208.5 399.17 209.5 398.45C210.5 397.72 211.5 396.96 212.5 396.15C213.5 395.35 214.5 394.51 215.5 393.63C216.5 392.74 217.5 391.82 218.5 390.85C219.5 389.88 220.5 388.87 221.5 387.8C222.5 386.73 223.5 385.62 224.5 384.45C225.5 383.28 226.5 382.06 227.5 380.78C228.5 379.5 229.5 378.17 230.5 376.77C231.5 375.38 232.5 373.92 233.5 372.4C234.5 370.88 235.5 369.3 236.5 367.65C237.5 366 239 363.36 239.5 362.5" fill="none" stroke="#76A500" stroke-width="2.2" stroke-linecap="butt" stroke-linejoin="round"/><path d="M101.2 454C101.7 454.01 103.21 454.05 104.22 454.07C105.22 454.1 106.23 454.12 107.23 454.14C108.24 454.17 109.25 454.19 110.25 454.21C111.26 454.23 112.26 454.25 113.27 454.28C114.28 454.3 115.28 454.32 116.29 454.33C117.29 454.35 118.3 454.37 119.3 454.39C120.31 454.41 121.32 454.42 122.32 454.44C123.33 454.46 124.33 454.47 125.34 454.49C126.34 454.51 127.35 454.52 128.36 454.54C129.36 454.56 130.37 454.58 131.37 454.59C132.38 454.61 133.39 454.63 134.39 454.64C135.4 454.66 136.4 454.68 137.41 454.69C138.41 454.71 139.42 454.72 140.43 454.74C141.43 454.75 142.44 454.77 143.44 454.78C144.45 454.79 145.46 454.8 146.46 454.82C147.47 454.83 148.47 454.84 149.48 454.85C150.48 454.86 151.49 454.87 152.5 454.87C153.5 454.88 154.51 454.89 155.51 454.89C156.52 454.89 157.52 454.9 158.53 454.9C159.54 454.9 160.54 454.9 161.55 454.9C162.55 454.9 163.56 454.9 164.57 454.9C165.57 454.9 166.58 454.9 167.58 454.9C168.59 454.9 169.59 454.89 170.6 454.89C171.61 454.89 172.61 454.89 173.62 454.89C174.62 454.88 175.63 454.88 176.63 454.88C177.64 454.88 178.65 454.87 179.65 454.87C180.66 454.87 181.66 454.86 182.67 454.86C183.68 454.86 184.68 454.85 185.69 454.85C186.69 454.84 187.7 454.84 188.7 454.84C189.71 454.83 190.72 454.83 191.72 454.82C192.73 454.81 193.73 454.82 194.74 454.8C195.74 454.78 196.75 454.76 197.76 454.71C198.76 454.65 199.77 454.56 200.77 454.46C201.78 454.37 202.79 454.25 203.79 454.13C204.8 454.01 205.8 453.88 206.81 453.76C207.81 453.64 208.82 453.53 209.83 453.42C210.83 453.31 211.84 453.2 212.84 453.09C213.85 452.98 214.86 452.86 215.86 452.74C216.87 452.62 217.87 452.5 218.88 452.38C219.88 452.26 220.89 452.14 221.9 452.03C222.9 451.92 223.91 451.81 224.91 451.72C225.92 451.62 226.92 451.68 227.93 451.46C228.94 451.24 229.94 450.96 230.95 450.39C231.95 449.82 232.96 449.23 233.97 448.04C234.97 446.84 235.98 446 236.98 443.21C237.99 440.42 239.5 433.29 240 431.3" fill="none" stroke="#00B5BA" stroke-width="2.2" stroke-linecap="butt" stroke-linejoin="round"/><path d="M51 447.7C51.5 447.71 53 447.75 54 447.78C55 447.81 56 447.83 57 447.86C58 447.88 59 447.91 60 447.93C61 447.95 62 447.97 63 448C64 448.02 65 448.04 66 448.06C67 448.07 68 448.09 69 448.11C70 448.12 71 448.14 72 448.15C73 448.16 74 448.17 75 448.18C76 448.19 77 448.19 78 448.2C79 448.2 80 448.2 81 448.2C82 448.2 83 448.2 84 448.2C85 448.2 86 448.2 87 448.19C88 448.19 89 448.19 90 448.19C91 448.19 92 448.18 93 448.18C94 448.18 95 448.17 96 448.17C97 448.16 98 448.16 99 448.16C100 448.15 101 448.15 102 448.14C103 448.13 104 448.13 105 448.12C106 448.12 107 448.11 108 448.1C109 448.1 110 448.09 111 448.08C112 448.07 113 448.06 114 448.06C115 448.05 116 448.04 117 448.03C118 448.02 119 448.02 120 448C121 447.98 122 447.97 123 447.93C124 447.9 125 447.85 126 447.8C127 447.75 128 447.69 129 447.63C130 447.56 131 447.49 132 447.43C133 447.36 134 447.29 135 447.22C136 447.15 137 447.08 138 447.02C139 446.96 140 446.9 141 446.85C142 446.79 143 446.74 144 446.69C145 446.64 146 446.59 147 446.54C148 446.49 149 446.44 150 446.39C151 446.34 152 446.29 153 446.23C154 446.18 155 446.12 156 446.06C157 446 158 445.94 159 445.87C160 445.8 161 445.73 162 445.65C163 445.57 164 445.48 165 445.38C166 445.29 167 445.19 168 445.08C169 444.98 170 444.87 171 444.76C172 444.66 173 444.55 174 444.44C175 444.33 176 444.22 177 444.11C178 444.01 179 443.9 180 443.8C181 443.7 182 443.61 183 443.52C184 443.43 185 443.36 186 443.27C187 443.18 188 443.1 189 443C190 442.91 191 442.81 192 442.69C193 442.57 194 442.46 195 442.3C196 442.14 197 441.94 198 441.71C199 441.48 200 441.19 201 440.9C202 440.61 203 440.29 204 439.99C205 439.68 206 439.36 207 439.08C208 438.8 209 438.54 210 438.28C211 438.02 212 437.8 213 437.52C214 437.24 215 436.96 216 436.6C217 436.24 218 435.82 219 435.35C220 434.88 221 434.34 222 433.78C223 433.22 224 432.64 225 431.97C226 431.29 227 430.6 228 429.71C229 428.82 230 428.18 231 426.61C232 425.04 233 422.79 234 420.29C235 417.79 236 414.86 237 411.59C238 408.33 239.5 402.52 240 400.7" fill="none" stroke="#BD76F2" stroke-width="2.2" stroke-linecap="butt" stroke-linejoin="round"/><path d="M37.8 351.5V459.9H262" fill="none" stroke="#222" stroke-width="1.1"/><path d="M35.2 455H37.8" stroke="#222" stroke-width="1.1"/><text x="33.4" y="459.7" font-size="11" text-anchor="end" fill="#1a1a1a">0</text><path d="M35.2 422.1H37.8" stroke="#222" stroke-width="1.1"/><text x="33.4" y="426.8" font-size="11" text-anchor="end" fill="#1a1a1a">20</text><path d="M35.2 389.2H37.8" stroke="#222" stroke-width="1.1"/><text x="33.4" y="393.9" font-size="11" text-anchor="end" fill="#1a1a1a">40</text><path d="M35.2 356.3H37.8" stroke="#222" stroke-width="1.1"/><text x="33.4" y="361" font-size="11" text-anchor="end" fill="#1a1a1a">60</text><path d="M48 459.9V462.5" stroke="#222" stroke-width="1.1"/><text x="48" y="473.1" font-size="11" text-anchor="middle" fill="#1a1a1a">-5</text><path d="M86.4 459.9V462.5" stroke="#222" stroke-width="1.1"/><text x="86.4" y="473.1" font-size="11" text-anchor="middle" fill="#1a1a1a">-4</text><path d="M124.8 459.9V462.5" stroke="#222" stroke-width="1.1"/><text x="124.8" y="473.1" font-size="11" text-anchor="middle" fill="#1a1a1a">-3</text><path d="M163.2 459.9V462.5" stroke="#222" stroke-width="1.1"/><text x="163.2" y="473.1" font-size="11" text-anchor="middle" fill="#1a1a1a">-2</text><path d="M201.6 459.9V462.5" stroke="#222" stroke-width="1.1"/><text x="201.6" y="473.1" font-size="11" text-anchor="middle" fill="#1a1a1a">-1</text><path d="M240 459.9V462.5" stroke="#222" stroke-width="1.1"/><text x="240" y="473.1" font-size="11" text-anchor="middle" fill="#1a1a1a">0</text><text x="149.9" y="487.8" font-size="11" text-anchor="middle" fill="#000">Years before Diagnosis</text><text transform="translate(16.2 405.8) rotate(-90)" font-size="11" text-anchor="middle" fill="#000">% with &gt;=1 AL S/Sx</text><text x="276.4" y="385.43" font-size="12" fill="#000">SYMPTOMS</text><path d="M277.9 397.63H285.9" stroke="#EC7068" stroke-width="2"/><text x="293" y="402.23" font-size="13" fill="#000">Chronic kidney disease/renal failure</text><path d="M277.9 408.76H285.9" stroke="#76A500" stroke-width="2"/><text x="293" y="413.36" font-size="13" fill="#000">Edema or swelling</text><path d="M277.9 419.89H285.9" stroke="#00B5BA" stroke-width="2"/><text x="293" y="424.49" font-size="13" fill="#000">Nephrotic syndrome</text><path d="M277.9 431.02H285.9" stroke="#BD76F2" stroke-width="2"/><text x="293" y="435.62" font-size="13" fill="#000">Proteinuria</text></g>
<g><text x="38" y="511.55" font-size="12.88" font-weight="bold" fill="#000" style="stroke:none">GI Symptoms</text><path d="M54.6 606.11C55.11 606.1 56.62 606.09 57.63 606.09C58.65 606.08 59.66 606.07 60.67 606.06C61.68 606.06 62.69 606.05 63.7 606.04C64.71 606.04 65.73 606.03 66.74 606.02C67.75 606.01 68.76 606 69.77 605.99C70.78 605.99 71.8 605.98 72.81 605.97C73.82 605.96 74.83 605.95 75.84 605.94C76.85 605.93 77.86 605.92 78.88 605.91C79.89 605.9 80.9 605.89 81.91 605.88C82.92 605.87 83.93 605.86 84.94 605.85C85.96 605.83 86.97 605.82 87.98 605.81C88.99 605.8 90 605.79 91.01 605.77C92.02 605.76 93.04 605.75 94.05 605.73C95.06 605.72 96.07 605.7 97.08 605.69C98.09 605.67 99.1 605.66 100.12 605.64C101.13 605.63 102.14 605.61 103.15 605.6C104.16 605.58 105.17 605.56 106.19 605.54C107.2 605.53 108.21 605.51 109.22 605.49C110.23 605.47 111.24 605.45 112.25 605.43C113.27 605.41 114.28 605.39 115.29 605.37C116.3 605.35 117.31 605.33 118.32 605.31C119.33 605.29 120.35 605.27 121.36 605.24C122.37 605.22 123.38 605.2 124.39 605.17C125.4 605.15 126.41 605.12 127.43 605.1C128.44 605.07 129.45 605.04 130.46 605.01C131.47 604.98 132.48 604.95 133.5 604.92C134.51 604.89 135.52 604.85 136.53 604.81C137.54 604.78 138.55 604.74 139.56 604.7C140.58 604.66 141.59 604.62 142.6 604.57C143.61 604.52 144.62 604.48 145.63 604.42C146.64 604.37 147.66 604.32 148.67 604.26C149.68 604.21 150.69 604.15 151.7 604.08C152.71 604.02 153.72 603.95 154.74 603.88C155.75 603.81 156.76 603.74 157.77 603.66C158.78 603.58 159.79 603.5 160.8 603.41C161.82 603.33 162.83 603.24 163.84 603.14C164.85 603.05 165.86 602.95 166.87 602.85C167.89 602.74 168.9 602.64 169.91 602.52C170.92 602.41 171.93 602.29 172.94 602.17C173.95 602.04 174.97 601.92 175.98 601.78C176.99 601.65 178 601.51 179.01 601.36C180.02 601.22 181.03 601.06 182.05 600.91C183.06 600.75 184.07 600.58 185.08 600.41C186.09 600.24 187.1 600.06 188.11 599.88C189.13 599.69 190.14 599.5 191.15 599.29C192.16 599.09 193.17 598.88 194.18 598.66C195.2 598.45 196.21 598.22 197.22 597.98C198.23 597.75 199.24 597.5 200.25 597.25C201.26 596.99 202.28 596.73 203.29 596.45C204.3 596.18 205.31 595.89 206.32 595.6C207.33 595.3 208.34 595 209.36 594.68C210.37 594.36 211.38 594.04 212.39 593.7C213.4 593.36 214.41 593 215.42 592.64C216.44 592.28 217.45 591.9 218.46 591.51C219.47 591.12 220.48 590.72 221.49 590.31C222.5 589.89 223.52 589.47 224.53 589.02C225.54 588.58 226.55 588.13 227.56 587.66C228.57 587.19 229.59 586.71 230.6 586.21C231.61 585.71 232.62 585.2 233.63 584.67C234.64 584.14 235.65 583.59 236.67 583.04C237.68 582.48 239.19 581.6 239.7 581.31" fill="none" stroke="#EC7068" stroke-width="2.2" stroke-linecap="butt" stroke-linejoin="round"/><path d="M54.6 604.51C55.11 604.5 56.62 604.49 57.63 604.48C58.65 604.47 59.66 604.46 60.67 604.46C61.68 604.45 62.69 604.44 63.7 604.44C64.71 604.43 65.73 604.42 66.74 604.42C67.75 604.41 68.76 604.41 69.77 604.4C70.78 604.4 71.8 604.39 72.81 604.39C73.82 604.38 74.83 604.38 75.84 604.37C76.85 604.37 77.86 604.37 78.88 604.36C79.89 604.36 80.9 604.35 81.91 604.35C82.92 604.35 83.93 604.34 84.94 604.34C85.96 604.34 86.97 604.33 87.98 604.33C88.99 604.33 90 604.32 91.01 604.32C92.02 604.31 93.04 604.31 94.05 604.31C95.06 604.3 96.07 604.3 97.08 604.29C98.09 604.29 99.1 604.28 100.12 604.28C101.13 604.27 102.14 604.27 103.15 604.26C104.16 604.26 105.17 604.25 106.19 604.25C107.2 604.24 108.21 604.23 109.22 604.23C110.23 604.22 111.24 604.21 112.25 604.2C113.27 604.2 114.28 604.19 115.29 604.18C116.3 604.17 117.31 604.16 118.32 604.15C119.33 604.14 120.35 604.13 121.36 604.12C122.37 604.11 123.38 604.1 124.39 604.09C125.4 604.07 126.41 604.06 127.43 604.04C128.44 604.03 129.45 604.01 130.46 603.99C131.47 603.98 132.48 603.96 133.5 603.94C134.51 603.91 135.52 603.89 136.53 603.87C137.54 603.84 138.55 603.81 139.56 603.78C140.58 603.75 141.59 603.72 142.6 603.69C143.61 603.65 144.62 603.61 145.63 603.57C146.64 603.53 147.66 603.49 148.67 603.44C149.68 603.39 150.69 603.34 151.7 603.29C152.71 603.24 153.72 603.18 154.74 603.12C155.75 603.05 156.76 602.99 157.77 602.92C158.78 602.85 159.79 602.78 160.8 602.7C161.82 602.62 162.83 602.54 163.84 602.45C164.85 602.37 165.86 602.27 166.87 602.18C167.89 602.08 168.9 601.98 169.91 601.87C170.92 601.77 171.93 601.65 172.94 601.54C173.95 601.42 174.97 601.3 175.98 601.17C176.99 601.04 178 600.9 179.01 600.76C180.02 600.62 181.03 600.47 182.05 600.32C183.06 600.16 184.07 600 185.08 599.83C186.09 599.66 187.1 599.49 188.11 599.3C189.13 599.12 190.14 598.93 191.15 598.73C192.16 598.53 193.17 598.32 194.18 598.1C195.2 597.89 196.21 597.66 197.22 597.42C198.23 597.19 199.24 596.94 200.25 596.69C201.26 596.43 202.28 596.17 203.29 595.89C204.3 595.62 205.31 595.33 206.32 595.04C207.33 594.74 208.34 594.43 209.36 594.11C210.37 593.79 211.38 593.46 212.39 593.12C213.4 592.78 214.41 592.42 215.42 592.06C216.44 591.69 217.45 591.31 218.46 590.92C219.47 590.53 220.48 590.12 221.49 589.7C222.5 589.29 223.52 588.85 224.53 588.41C225.54 587.96 226.55 587.5 227.56 587.03C228.57 586.55 229.59 586.07 230.6 585.56C231.61 585.06 232.62 584.54 233.63 584C234.64 583.47 235.65 582.92 236.67 582.36C237.68 581.79 239.19 580.9 239.7 580.61" fill="none" stroke="#76A500" stroke-width="2.2" stroke-linecap="butt" stroke-linejoin="round"/><path d="M57.2 610.2C57.71 610.22 59.23 610.27 60.24 610.31C61.26 610.34 62.27 610.38 63.28 610.41C64.3 610.44 65.31 610.47 66.33 610.51C67.34 610.54 68.35 610.57 69.37 610.6C70.38 610.63 71.39 610.66 72.41 610.69C73.42 610.72 74.44 610.75 75.45 610.77C76.46 610.8 77.48 610.83 78.49 610.85C79.51 610.88 80.52 610.9 81.53 610.92C82.55 610.95 83.56 610.97 84.58 610.99C85.59 611.01 86.6 611.03 87.62 611.05C88.63 611.07 89.64 611.09 90.66 611.11C91.67 611.12 92.69 611.14 93.7 611.15C94.71 611.17 95.73 611.18 96.74 611.19C97.76 611.21 98.77 611.22 99.78 611.23C100.8 611.23 101.81 611.24 102.83 611.25C103.84 611.25 104.85 611.26 105.87 611.26C106.88 611.27 107.89 611.27 108.91 611.27C109.92 611.27 110.94 611.27 111.95 611.27C112.96 611.26 113.98 611.26 114.99 611.25C116.01 611.25 117.02 611.24 118.03 611.23C119.05 611.22 120.06 611.21 121.08 611.2C122.09 611.19 123.1 611.17 124.12 611.15C125.13 611.14 126.14 611.12 127.16 611.1C128.17 611.08 129.19 611.06 130.2 611.03C131.21 611.01 132.23 610.98 133.24 610.96C134.26 610.93 135.27 610.9 136.28 610.87C137.3 610.83 138.31 610.8 139.32 610.76C140.34 610.73 141.35 610.69 142.37 610.65C143.38 610.61 144.39 610.56 145.41 610.52C146.42 610.47 147.44 610.43 148.45 610.38C149.46 610.33 150.48 610.28 151.49 610.22C152.51 610.17 153.52 610.11 154.53 610.05C155.55 609.99 156.56 609.93 157.57 609.87C158.59 609.8 159.6 609.74 160.62 609.67C161.63 609.6 162.64 609.53 163.66 609.45C164.67 609.38 165.69 609.3 166.7 609.22C167.71 609.14 168.73 609.06 169.74 608.97C170.76 608.89 171.77 608.8 172.78 608.71C173.8 608.62 174.81 608.53 175.82 608.43C176.84 608.34 177.85 608.24 178.87 608.13C179.88 608.03 180.89 607.93 181.91 607.82C182.92 607.71 183.94 607.59 184.95 607.48C185.96 607.36 186.98 607.24 187.99 607.11C189.01 606.98 190.02 606.85 191.03 606.71C192.05 606.57 193.06 606.43 194.07 606.28C195.09 606.13 196.1 605.98 197.12 605.82C198.13 605.66 199.14 605.49 200.16 605.32C201.17 605.14 202.19 604.96 203.2 604.77C204.21 604.58 205.23 604.39 206.24 604.18C207.26 603.98 208.27 603.76 209.28 603.54C210.3 603.32 211.31 603.09 212.32 602.85C213.34 602.61 214.35 602.37 215.37 602.11C216.38 601.85 217.39 601.59 218.41 601.31C219.42 601.03 220.44 600.74 221.45 600.44C222.46 600.14 223.48 599.82 224.49 599.49C225.51 599.16 226.52 598.81 227.53 598.45C228.55 598.08 229.56 597.7 230.57 597.3C231.59 596.9 232.6 596.48 233.62 596.04C234.63 595.59 235.64 595.13 236.66 594.64C237.67 594.15 239.19 593.36 239.7 593.11" fill="none" stroke="#00B5BA" stroke-width="2.2" stroke-linecap="butt" stroke-linejoin="round"/><path d="M51.9 603.9C52.4 603.88 53.92 603.83 54.93 603.79C55.94 603.75 56.95 603.71 57.96 603.67C58.97 603.63 59.98 603.59 60.99 603.55C62 603.51 63.01 603.47 64.02 603.42C65.03 603.38 66.04 603.34 67.05 603.3C68.05 603.26 69.06 603.22 70.07 603.18C71.08 603.14 72.09 603.1 73.1 603.06C74.11 603.01 75.12 602.97 76.13 602.93C77.14 602.89 78.15 602.85 79.16 602.8C80.17 602.76 81.18 602.72 82.19 602.68C83.2 602.63 84.21 602.59 85.22 602.55C86.23 602.5 87.24 602.46 88.25 602.42C89.26 602.37 90.27 602.33 91.28 602.28C92.29 602.24 93.3 602.19 94.31 602.15C95.32 602.1 96.33 602.06 97.34 602.01C98.35 601.97 99.35 601.92 100.36 601.88C101.37 601.83 102.38 601.78 103.39 601.74C104.4 601.69 105.41 601.64 106.42 601.59C107.43 601.55 108.44 601.5 109.45 601.45C110.46 601.4 111.47 601.36 112.48 601.31C113.49 601.26 114.5 601.21 115.51 601.16C116.52 601.11 117.53 601.06 118.54 601.01C119.55 600.96 120.56 600.91 121.57 600.86C122.58 600.81 123.59 600.75 124.6 600.7C125.61 600.65 126.62 600.6 127.63 600.54C128.64 600.49 129.65 600.43 130.65 600.37C131.66 600.32 132.67 600.26 133.68 600.2C134.69 600.14 135.7 600.08 136.71 600.01C137.72 599.95 138.73 599.88 139.74 599.81C140.75 599.74 141.76 599.67 142.77 599.6C143.78 599.53 144.79 599.45 145.8 599.37C146.81 599.29 147.82 599.21 148.83 599.12C149.84 599.04 150.85 598.95 151.86 598.85C152.87 598.76 153.88 598.67 154.89 598.57C155.9 598.46 156.91 598.36 157.92 598.25C158.93 598.14 159.94 598.03 160.95 597.91C161.95 597.8 162.96 597.68 163.97 597.55C164.98 597.42 165.99 597.29 167 597.16C168.01 597.02 169.02 596.88 170.03 596.73C171.04 596.58 172.05 596.43 173.06 596.27C174.07 596.11 175.08 595.95 176.09 595.78C177.1 595.61 178.11 595.44 179.12 595.25C180.13 595.07 181.14 594.88 182.15 594.68C183.16 594.49 184.17 594.28 185.18 594.07C186.19 593.86 187.2 593.64 188.21 593.41C189.22 593.18 190.23 592.95 191.24 592.7C192.25 592.46 193.25 592.2 194.26 591.94C195.27 591.67 196.28 591.4 197.29 591.11C198.3 590.83 199.31 590.54 200.32 590.23C201.33 589.92 202.34 589.61 203.35 589.28C204.36 588.95 205.37 588.61 206.38 588.26C207.39 587.91 208.4 587.55 209.41 587.17C210.42 586.8 211.43 586.41 212.44 586.01C213.45 585.6 214.46 585.19 215.47 584.76C216.48 584.33 217.49 583.89 218.5 583.43C219.51 582.97 220.52 582.5 221.53 582.02C222.54 581.53 223.55 581.03 224.55 580.51C225.56 579.99 226.57 579.46 227.58 578.91C228.59 578.36 229.6 577.8 230.61 577.22C231.62 576.63 232.63 576.03 233.64 575.42C234.65 574.8 235.66 574.17 236.67 573.52C237.68 572.86 239.2 571.84 239.7 571.5" fill="none" stroke="#BD76F2" stroke-width="2.2" stroke-linecap="butt" stroke-linejoin="round"/><path d="M37.8 516.75V625.15H262" fill="none" stroke="#222" stroke-width="1.1"/><path d="M35.2 620.25H37.8" stroke="#222" stroke-width="1.1"/><text x="33.4" y="624.95" font-size="11" text-anchor="end" fill="#1a1a1a">0</text><path d="M35.2 587.35H37.8" stroke="#222" stroke-width="1.1"/><text x="33.4" y="592.05" font-size="11" text-anchor="end" fill="#1a1a1a">20</text><path d="M35.2 554.45H37.8" stroke="#222" stroke-width="1.1"/><text x="33.4" y="559.15" font-size="11" text-anchor="end" fill="#1a1a1a">40</text><path d="M35.2 521.55H37.8" stroke="#222" stroke-width="1.1"/><text x="33.4" y="526.25" font-size="11" text-anchor="end" fill="#1a1a1a">60</text><path d="M48 625.15V627.75" stroke="#222" stroke-width="1.1"/><text x="48" y="638.35" font-size="11" text-anchor="middle" fill="#1a1a1a">-5</text><path d="M86.4 625.15V627.75" stroke="#222" stroke-width="1.1"/><text x="86.4" y="638.35" font-size="11" text-anchor="middle" fill="#1a1a1a">-4</text><path d="M124.8 625.15V627.75" stroke="#222" stroke-width="1.1"/><text x="124.8" y="638.35" font-size="11" text-anchor="middle" fill="#1a1a1a">-3</text><path d="M163.2 625.15V627.75" stroke="#222" stroke-width="1.1"/><text x="163.2" y="638.35" font-size="11" text-anchor="middle" fill="#1a1a1a">-2</text><path d="M201.6 625.15V627.75" stroke="#222" stroke-width="1.1"/><text x="201.6" y="638.35" font-size="11" text-anchor="middle" fill="#1a1a1a">-1</text><path d="M240 625.15V627.75" stroke="#222" stroke-width="1.1"/><text x="240" y="638.35" font-size="11" text-anchor="middle" fill="#1a1a1a">0</text><text x="149.9" y="653.05" font-size="11" text-anchor="middle" fill="#000">Years before Diagnosis</text><text transform="translate(16.2 571.05) rotate(-90)" font-size="11" text-anchor="middle" fill="#000">% with &gt;=1 AL S/Sx</text><text x="276.4" y="550.68" font-size="12" fill="#000">SYMPTOMS</text><path d="M277.9 562.88H285.9" stroke="#EC7068" stroke-width="2"/><text x="293" y="567.48" font-size="13" fill="#000">Constipation</text><path d="M277.9 574.01H285.9" stroke="#76A500" stroke-width="2"/><text x="293" y="578.61" font-size="13" fill="#000">Diarrhea</text><path d="M277.9 585.14H285.9" stroke="#00B5BA" stroke-width="2"/><text x="293" y="589.74" font-size="13" fill="#000">Dyspahgia</text><path d="M277.9 596.27H285.9" stroke="#BD76F2" stroke-width="2"/><text x="293" y="600.87" font-size="13" fill="#000">Nausea and vomiting</text></g>
<g><text x="38" y="676.8" font-size="12.88" font-weight="bold" fill="#000" style="stroke:none">Other Symptoms</text><path d="M51.1 745.4C51.61 745.35 53.13 745.21 54.14 745.11C55.16 745.02 56.17 744.94 57.18 744.85C58.2 744.77 59.21 744.69 60.23 744.62C61.24 744.55 62.25 744.48 63.27 744.41C64.28 744.34 65.3 744.28 66.31 744.22C67.32 744.16 68.34 744.1 69.35 744.05C70.37 744 71.38 743.95 72.39 743.9C73.41 743.85 74.42 743.81 75.44 743.76C76.45 743.72 77.46 743.68 78.48 743.64C79.49 743.61 80.51 743.57 81.52 743.54C82.53 743.5 83.55 743.47 84.56 743.44C85.58 743.41 86.59 743.38 87.6 743.36C88.62 743.33 89.63 743.3 90.65 743.28C91.66 743.25 92.67 743.23 93.69 743.2C94.7 743.18 95.72 743.16 96.73 743.14C97.74 743.11 98.76 743.09 99.77 743.07C100.78 743.05 101.8 743.03 102.81 743C103.83 742.98 104.84 742.96 105.85 742.94C106.87 742.92 107.88 742.89 108.9 742.87C109.91 742.84 110.92 742.82 111.94 742.79C112.95 742.77 113.97 742.74 114.98 742.71C115.99 742.69 117.01 742.66 118.02 742.63C119.04 742.59 120.05 742.56 121.06 742.53C122.08 742.49 123.09 742.46 124.11 742.42C125.12 742.38 126.13 742.34 127.15 742.29C128.16 742.25 129.18 742.2 130.19 742.15C131.2 742.11 132.22 742.05 133.23 742C134.25 741.94 135.26 741.89 136.27 741.82C137.29 741.76 138.3 741.7 139.32 741.63C140.33 741.56 141.34 741.49 142.36 741.41C143.37 741.34 144.39 741.26 145.4 741.17C146.41 741.09 147.43 741 148.44 740.9C149.46 740.81 150.47 740.71 151.48 740.61C152.5 740.51 153.51 740.4 154.53 740.29C155.54 740.17 156.55 740.05 157.57 739.93C158.58 739.81 159.6 739.68 160.61 739.54C161.62 739.41 162.64 739.27 163.65 739.12C164.67 738.97 165.68 738.82 166.69 738.66C167.71 738.49 168.72 738.32 169.74 738.14C170.75 737.96 171.76 737.78 172.78 737.58C173.79 737.38 174.81 737.18 175.82 736.96C176.83 736.74 177.85 736.51 178.86 736.27C179.88 736.03 180.89 735.78 181.9 735.52C182.92 735.25 183.93 734.98 184.95 734.69C185.96 734.39 186.97 734.09 187.99 733.77C189 733.45 190.02 733.12 191.03 732.77C192.04 732.43 193.06 732.06 194.07 731.68C195.08 731.3 196.1 730.9 197.11 730.49C198.13 730.07 199.14 729.64 200.15 729.19C201.17 728.74 202.18 728.27 203.2 727.78C204.21 727.29 205.22 726.78 206.24 726.25C207.25 725.72 208.27 725.17 209.28 724.6C210.29 724.03 211.31 723.44 212.32 722.82C213.34 722.2 214.35 721.56 215.36 720.9C216.38 720.24 217.39 719.55 218.41 718.84C219.42 718.12 220.43 717.38 221.45 716.61C222.46 715.84 223.48 715.04 224.49 714.21C225.5 713.37 226.52 712.51 227.53 711.6C228.55 710.7 229.56 709.77 230.57 708.79C231.59 707.82 232.6 706.8 233.62 705.75C234.63 704.69 235.64 703.6 236.66 702.46C237.67 701.32 239.19 699.5 239.7 698.9" fill="none" stroke="#EC7068" stroke-width="2.2" stroke-linecap="butt" stroke-linejoin="round"/><path d="M194.2 785.8L239.8 784.8" fill="none" stroke="#76A500" stroke-width="2.2" stroke-linecap="butt" stroke-linejoin="round"/><path d="M48.9 743.1C49.4 743.03 50.92 742.81 51.93 742.67C52.94 742.53 53.95 742.39 54.96 742.25C55.97 742.12 56.98 741.98 57.99 741.84C59 741.71 60 741.58 61.01 741.44C62.02 741.31 63.03 741.18 64.04 741.05C65.05 740.93 66.06 740.8 67.07 740.67C68.08 740.55 69.09 740.43 70.1 740.31C71.11 740.19 72.12 740.07 73.13 739.95C74.14 739.84 75.15 739.72 76.16 739.61C77.17 739.5 78.18 739.39 79.19 739.29C80.2 739.18 81.2 739.07 82.21 738.97C83.22 738.86 84.23 738.76 85.24 738.65C86.25 738.55 87.26 738.44 88.27 738.34C89.28 738.23 90.29 738.13 91.3 738.03C92.31 737.92 93.32 737.82 94.33 737.72C95.34 737.62 96.35 737.52 97.36 737.42C98.37 737.32 99.38 737.23 100.39 737.13C101.4 737.04 102.4 736.95 103.41 736.86C104.42 736.77 105.43 736.68 106.44 736.6C107.45 736.52 108.46 736.44 109.47 736.36C110.48 736.28 111.49 736.21 112.5 736.14C113.51 736.07 114.52 736.01 115.53 735.94C116.54 735.88 117.55 735.83 118.56 735.77C119.57 735.72 120.58 735.67 121.59 735.63C122.6 735.58 123.6 735.54 124.61 735.5C125.62 735.45 126.63 735.41 127.64 735.38C128.65 735.34 129.66 735.3 130.67 735.27C131.68 735.24 132.69 735.2 133.7 735.17C134.71 735.14 135.72 735.11 136.73 735.09C137.74 735.06 138.75 735.03 139.76 735.01C140.77 734.98 141.78 734.96 142.79 734.94C143.8 734.92 144.8 734.9 145.81 734.89C146.82 734.87 147.83 734.85 148.84 734.83C149.85 734.81 150.86 734.78 151.87 734.75C152.88 734.73 153.89 734.71 154.9 734.68C155.91 734.65 156.92 734.62 157.93 734.58C158.94 734.55 159.95 734.51 160.96 734.46C161.97 734.4 162.98 734.34 163.99 734.23C165 734.12 166 733.96 167.01 733.81C168.02 733.65 169.03 733.48 170.04 733.29C171.05 733.11 172.06 732.91 173.07 732.69C174.08 732.47 175.09 732.22 176.1 731.97C177.11 731.73 178.12 731.48 179.13 731.22C180.14 730.95 181.15 730.68 182.16 730.4C183.17 730.12 184.18 729.83 185.19 729.54C186.2 729.24 187.2 728.94 188.21 728.63C189.22 728.32 190.23 727.99 191.24 727.66C192.25 727.32 193.26 726.97 194.27 726.6C195.28 726.24 196.29 725.86 197.3 725.47C198.31 725.08 199.32 724.68 200.33 724.27C201.34 723.85 202.35 723.42 203.36 722.97C204.37 722.53 205.38 722.06 206.39 721.58C207.4 721.1 208.4 720.61 209.41 720.09C210.42 719.58 211.43 719.06 212.44 718.5C213.45 717.94 214.46 717.37 215.47 716.73C216.48 716.09 217.49 715.4 218.5 714.66C219.51 713.92 220.52 713.09 221.53 712.29C222.54 711.49 223.55 710.67 224.56 709.85C225.57 709.04 226.58 708.23 227.59 707.39C228.6 706.55 229.6 705.7 230.61 704.82C231.62 703.94 232.63 703.04 233.64 702.12C234.65 701.19 235.66 700.24 236.67 699.27C237.68 698.3 239.2 696.8 239.7 696.3" fill="none" stroke="#00B5BA" stroke-width="2.2" stroke-linecap="butt" stroke-linejoin="round"/><path d="M74.6 784.9C75.1 784.89 76.6 784.86 77.6 784.83C78.6 784.81 79.61 784.79 80.61 784.78C81.61 784.76 82.61 784.74 83.61 784.72C84.61 784.7 85.61 784.69 86.61 784.67C87.62 784.65 88.62 784.64 89.62 784.62C90.62 784.61 91.62 784.6 92.62 784.58C93.62 784.57 94.62 784.56 95.63 784.54C96.63 784.53 97.63 784.52 98.63 784.51C99.63 784.5 100.63 784.49 101.63 784.48C102.63 784.47 103.64 784.46 104.64 784.45C105.64 784.44 106.64 784.43 107.64 784.43C108.64 784.42 109.64 784.41 110.64 784.4C111.64 784.39 112.65 784.39 113.65 784.38C114.65 784.37 115.65 784.37 116.65 784.36C117.65 784.36 118.65 784.35 119.65 784.35C120.66 784.34 121.66 784.33 122.66 784.33C123.66 784.32 124.66 784.32 125.66 784.32C126.66 784.31 127.66 784.31 128.67 784.3C129.67 784.3 130.67 784.29 131.67 784.29C132.67 784.28 133.67 784.28 134.67 784.28C135.67 784.27 136.68 784.27 137.68 784.26C138.68 784.26 139.68 784.26 140.68 784.25C141.68 784.25 142.68 784.24 143.68 784.24C144.68 784.24 145.69 784.23 146.69 784.23C147.69 784.22 148.69 784.22 149.69 784.21C150.69 784.21 151.69 784.2 152.69 784.2C153.7 784.19 154.7 784.19 155.7 784.18C156.7 784.17 157.7 784.17 158.7 784.16C159.7 784.16 160.7 784.15 161.71 784.14C162.71 784.13 163.71 784.13 164.71 784.12C165.71 784.11 166.71 784.1 167.71 784.09C168.71 784.09 169.72 784.08 170.72 784.07C171.72 784.06 172.72 784.05 173.72 784.04C174.72 784.03 175.72 784.01 176.72 784C177.72 783.99 178.73 783.98 179.73 783.97C180.73 783.95 181.73 783.94 182.73 783.92C183.73 783.91 184.73 783.9 185.73 783.88C186.74 783.86 187.74 783.85 188.74 783.83C189.74 783.81 190.74 783.8 191.74 783.78C192.74 783.76 193.74 783.74 194.75 783.72C195.75 783.7 196.75 783.68 197.75 783.66C198.75 783.63 199.75 783.61 200.75 783.59C201.75 783.56 202.76 783.54 203.76 783.51C204.76 783.49 205.76 783.46 206.76 783.43C207.76 783.41 208.76 783.38 209.76 783.35C210.76 783.32 211.77 783.29 212.77 783.26C213.77 783.22 214.77 783.19 215.77 783.16C216.77 783.12 217.77 783.09 218.77 783.05C219.78 783.01 220.78 782.98 221.78 782.94C222.78 782.9 223.78 782.86 224.78 782.82C225.78 782.78 226.78 782.73 227.79 782.69C228.79 782.65 229.79 782.6 230.79 782.56C231.79 782.51 232.79 782.46 233.79 782.41C234.79 782.36 235.8 782.31 236.8 782.26C237.8 782.21 239.3 782.13 239.8 782.1" fill="none" stroke="#BD76F2" stroke-width="2.2" stroke-linecap="butt" stroke-linejoin="round"/><path d="M37.8 682V790.4H262" fill="none" stroke="#222" stroke-width="1.1"/><path d="M35.2 785.5H37.8" stroke="#222" stroke-width="1.1"/><text x="33.4" y="790.2" font-size="11" text-anchor="end" fill="#1a1a1a">0</text><path d="M35.2 752.6H37.8" stroke="#222" stroke-width="1.1"/><text x="33.4" y="757.3" font-size="11" text-anchor="end" fill="#1a1a1a">20</text><path d="M35.2 719.7H37.8" stroke="#222" stroke-width="1.1"/><text x="33.4" y="724.4" font-size="11" text-anchor="end" fill="#1a1a1a">40</text><path d="M35.2 686.8H37.8" stroke="#222" stroke-width="1.1"/><text x="33.4" y="691.5" font-size="11" text-anchor="end" fill="#1a1a1a">60</text><path d="M48 790.4V793" stroke="#222" stroke-width="1.1"/><text x="48" y="803.6" font-size="11" text-anchor="middle" fill="#1a1a1a">-5</text><path d="M86.4 790.4V793" stroke="#222" stroke-width="1.1"/><text x="86.4" y="803.6" font-size="11" text-anchor="middle" fill="#1a1a1a">-4</text><path d="M124.8 790.4V793" stroke="#222" stroke-width="1.1"/><text x="124.8" y="803.6" font-size="11" text-anchor="middle" fill="#1a1a1a">-3</text><path d="M163.2 790.4V793" stroke="#222" stroke-width="1.1"/><text x="163.2" y="803.6" font-size="11" text-anchor="middle" fill="#1a1a1a">-2</text><path d="M201.6 790.4V793" stroke="#222" stroke-width="1.1"/><text x="201.6" y="803.6" font-size="11" text-anchor="middle" fill="#1a1a1a">-1</text><path d="M240 790.4V793" stroke="#222" stroke-width="1.1"/><text x="240" y="803.6" font-size="11" text-anchor="middle" fill="#1a1a1a">0</text><text x="149.9" y="818.3" font-size="11" text-anchor="middle" fill="#000">Years before Diagnosis</text><text transform="translate(16.2 736.3) rotate(-90)" font-size="11" text-anchor="middle" fill="#000">% with &gt;=1 AL S/Sx</text><text x="276.4" y="715.93" font-size="12" fill="#000">SYMPTOMS</text><path d="M277.9 728.13H285.9" stroke="#EC7068" stroke-width="2"/><text x="293" y="732.73" font-size="13" fill="#000">Abdominal pain</text><path d="M277.9 739.26H285.9" stroke="#76A500" stroke-width="2"/><text x="293" y="743.86" font-size="13" fill="#000">Enlarged tongue</text><path d="M277.9 750.39H285.9" stroke="#00B5BA" stroke-width="2"/><text x="293" y="754.99" font-size="13" fill="#000">Malaise/fatigue</text><path d="M277.9 761.52H285.9" stroke="#BD76F2" stroke-width="2"/><text x="293" y="766.12" font-size="13" fill="#000">Purpura</text></g>
</g></svg></body></html>
